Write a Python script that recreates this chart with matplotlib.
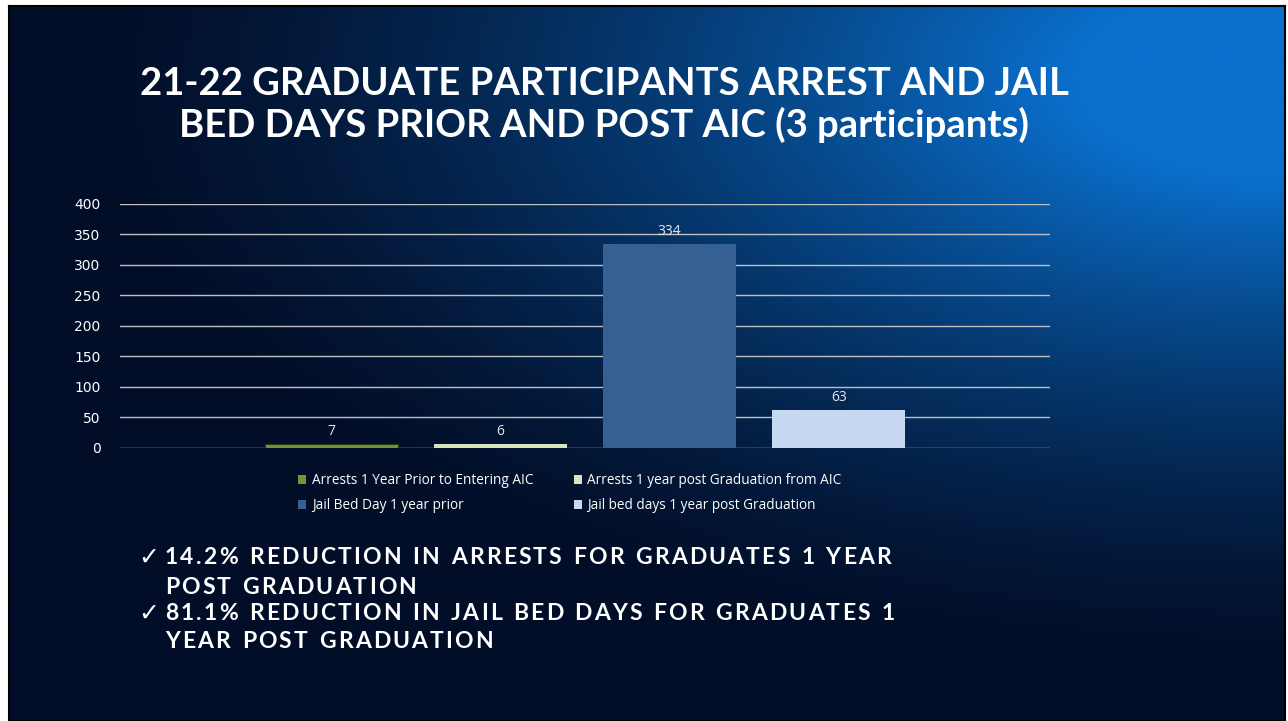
import numpy as np
import matplotlib.pyplot as plt
from matplotlib.patches import Patch

# 数据
series = ['Arrests 1 Year Prior to Entering AIC',
          'Arrests 1 year post Graduation from AIC',
          'Jail Bed Day 1 year prior',
          'Jail bed days 1 year post Graduation']
values = [7, 6, 334, 63]
colors = ['#77933C', '#D7E4BD', '#376092', '#C6D9F1']
yticks = [0, 50, 100, 150, 200, 250, 300, 350, 400]

title = '21-22 GRADUATE PARTICIPANTS ARREST AND JAIL\nBED DAYS PRIOR AND POST AIC (3 participants)'
bullet_lines = [['14.2% REDUCTION IN ARRESTS FOR GRADUATES 1 YEAR', 'POST GRADUATION'],
                ['81.1% REDUCTION IN JAIL BED DAYS FOR GRADUATES 1', 'YEAR POST GRADUATION']]

W, H = 1288, 721
fig = plt.figure(figsize=(W / 100, H / 100), dpi=100, facecolor='white')

# 背景(深蓝渐变,右上角较亮)
bg = fig.add_axes([9 / W, 0, (1285 - 9) / W, (H - 6) / H])
gx, gy = np.meshgrid(np.linspace(0, 1, 400), np.linspace(0, 1, 240))
t = np.clip(1.2 - np.hypot((gx - 1.0) * 1.0, (gy - 0.1) * 1.15) * 1.25, 0, 1) ** 1.5
dark = np.array([2, 14, 40]) / 255
light = np.array([10, 112, 205]) / 255
img = dark + (light - dark) * t[..., None]
bg.imshow(img, aspect='auto', extent=[0, 1, 1, 0])
bg.set_xticks([])
bg.set_yticks([])
for s in bg.spines.values():
    s.set_color('black')
    s.set_linewidth(1.5)

# 柱状图
ax = fig.add_axes([120 / W, 1 - 448 / H, 930 / W, 244 / H])
ax.patch.set_alpha(0)
x = np.arange(len(values))
bars = ax.bar(x, values, width=0.787, color=colors, zorder=3)
bars[0].set_edgecolor('#2a3a10')
bars[0].set_linewidth(0.8)
ax.set_xlim(-1.25, 4.25)
ax.set_ylim(0, 400)
ax.set_yticks(yticks)
ax.set_xticks([])
ax.grid(axis='y', color='#BFBFBF', linewidth=1, zorder=0)
ax.tick_params(axis='y', length=0, colors='white', labelsize=10, pad=14)
for s in ax.spines.values():
    s.set_visible(False)
for b, v in zip(bars, values):
    ax.text(b.get_x() + b.get_width() / 2, v + 8, str(v), ha='center', va='bottom',
            color='#E6E6E6', fontsize=10, family='Open Sans')

# 图例(按行排列)
order = [0, 2, 1, 3]
handles = [Patch(facecolor=colors[i], edgecolor='none') for i in order]
labels = [series[i] for i in order]
fig.legend(handles, labels, ncol=2, loc='upper left',
           bbox_to_anchor=(286 / W, 1 - 461 / H), frameon=False,
           prop={'family': 'Open Sans', 'size': 9.8}, labelcolor='white',
           handlelength=0.6, handleheight=0.6, handletextpad=0.4,
           columnspacing=2.95, labelspacing=0.75)

# 标题
fig.text(604 / W, 1 - 105 / H, title, ha='center', va='center', color='white',
         fontsize=27.5, fontweight='bold', family='Lato', linespacing=1.2)

# 要点(字间距加宽)
renderer = fig.canvas.get_renderer()


def spaced_text(x0, y0, s, spacing=2.2, **kw):
    xx = x0
    for ch in s:
        if ch == ' ':
            xx += 7 + spacing
            continue
        t = fig.text(xx / W, 1 - y0 / H, ch, ha='left', va='center', **kw)
        xx += t.get_window_extent(renderer).width + spacing


line_y = [[558, 587], [614, 641]]
for ys, lines in zip(line_y, bullet_lines):
    fig.text(138 / W, 1 - ys[0] / H, '\u2713', ha='left', va='center', color='white',
             fontsize=18, family='DejaVu Sans')
    for yy, txt in zip(ys, lines):
        spaced_text(165, yy, txt, color='white', fontsize=16.5, fontweight='bold', family='Lato')

fig.savefig('out.png', dpi=100, facecolor=fig.get_facecolor())
